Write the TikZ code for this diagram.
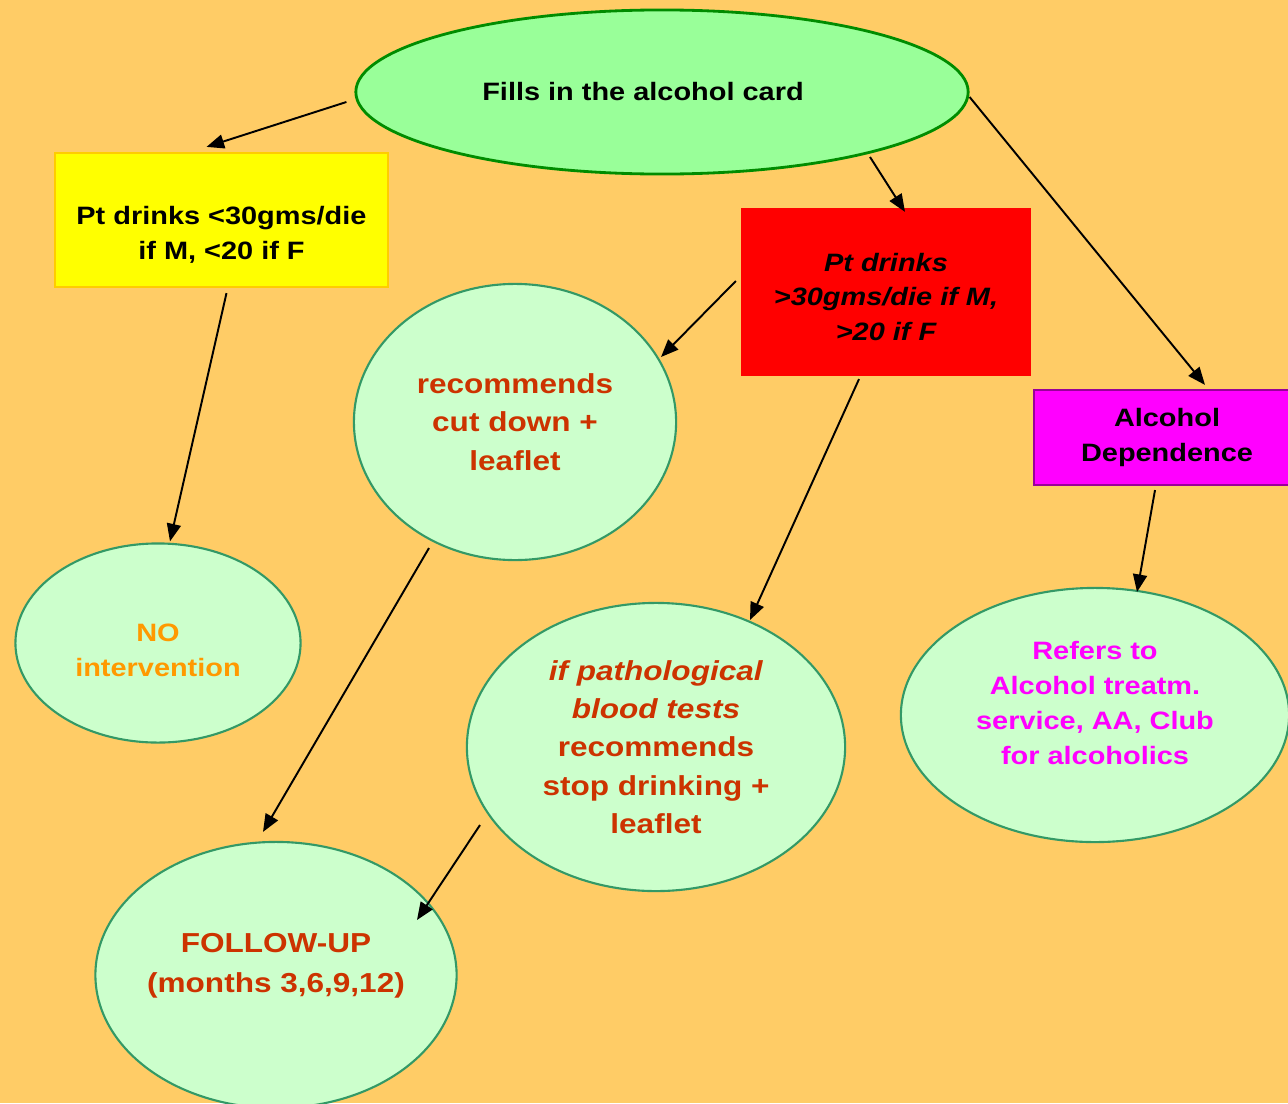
\documentclass[tikz,border=0pt]{standalone}
\usepackage{fontspec}
\setmainfont{Liberation Sans}[FakeStretch=1.15]
\usetikzlibrary{shapes.geometric, arrows.meta, calc}

\definecolor{bgorange}{HTML}{FFCC66}
\definecolor{cardfill}{HTML}{99FF99}
\definecolor{cardline}{HTML}{008C00}
\definecolor{bubblefill}{HTML}{CCFFCC}
\definecolor{bubbleline}{HTML}{339966}
\definecolor{advice}{HTML}{CC3300}
\definecolor{noadvice}{HTML}{FF9900}
\definecolor{pink}{HTML}{FF00FF}
\definecolor{purpleline}{HTML}{990099}
\definecolor{lowfill}{HTML}{FFFF00}
\definecolor{lowline}{HTML}{FFCC00}
\definecolor{highfill}{HTML}{FF0000}

\newcommand{\smalltxt}{\bfseries\fontsize{7.15}{9.9}\selectfont}
\newcommand{\bigtxt}{\bfseries\fontsize{7.8}{10.9}\selectfont}
\newcommand{\followtxt}{\bfseries\fontsize{7.8}{11.4}\selectfont}

\begin{document}
\begin{tikzpicture}[x=0.01cm, y=-0.01cm,
  cardnode/.style={ellipse, draw=cardline, line width=0.8pt, fill=cardfill, inner sep=0pt},
  bubble/.style={ellipse, draw=bubbleline, line width=0.6pt, fill=bubblefill, inner sep=0pt, align=center},
  boxnode/.style={rectangle, inner sep=0pt, align=center, font=\smalltxt, line width=0.6pt},
  txt/.style={align=center, inner sep=0pt},
  arr/.style={-{Triangle[length=5pt,width=4pt]}, line width=0.55pt, black}]
\useasboundingbox (0,0) rectangle (1288,1103);
\clip (0,0) rectangle (1288,1103);
\fill[bgorange] (0,0) rectangle (1288,1103);

% top
\node[cardnode, minimum width=6.12cm, minimum height=1.64cm,
  label={[txt, font=\smalltxt, xshift=-0.19cm]center:Fills in the alcohol card}] (card) at (662,92) {};

% the three boxes
\node[boxnode, fill=lowfill, draw=lowline, minimum width=3.33cm, minimum height=1.34cm,
  label={[txt, font=\smalltxt, yshift=-0.15cm]center:Pt drinks <30gms/die\\if M, <20 if F}] (low) at (221.5,220) {};
\node[boxnode, fill=highfill, minimum width=2.9cm, minimum height=1.68cm,
  label={[txt, font=\smalltxt\itshape, yshift=-0.05cm]center:Pt drinks\\>30gms/die if M,\\>20 if F}] (high) at (886,292) {};
\node[boxnode, fill=pink, draw=purpleline, minimum width=2.66cm, minimum height=0.95cm] (dep) at (1167,437.5) {Alcohol\\Dependence};

% the bubbles
\node[bubble, minimum width=3.22cm, minimum height=2.76cm, text=advice, font=\bigtxt] (cut) at (515,422) {recommends\\cut down +\\leaflet};
\node[bubble, minimum width=2.85cm, minimum height=1.99cm,
  label={[txt, text=noadvice, font=\smalltxt, yshift=-0.07cm]center:NO\\intervention}] (noint) at (158,643) {};
\node[bubble, minimum width=3.78cm, minimum height=2.88cm, text=advice, font=\bigtxt] (stop) at (656,747) {\textit{if pathological}\\\textit{blood tests}\\recommends\\stop drinking +\\leaflet};
\node[bubble, minimum width=3.88cm, minimum height=2.54cm,
  label={[txt, text=pink, font=\smalltxt, yshift=0.12cm]center:Refers to\\Alcohol treatm.\\service, AA, Club\\for alcoholics}] (refer) at (1095,715) {};
\node[bubble, minimum width=3.61cm, minimum height=2.66cm,
  label={[txt, text=advice, font=\followtxt, yshift=0.09cm]center:FOLLOW-UP\\(months 3,6,9,12)}] (follow) at (276,975) {};

% arrows
\draw[arr] ($(card.west)+(-8,10)$) -- ($(low.north)+(-15,-5)$);
\draw[arr] ($(card.center)+(208,65)$) -- ($(high.north)+(19,5)$);
\draw[arr] ($(card.east)+(0,5)$) -- ($(dep.north)+(38,-4)$);
\draw[arr] ($(low.south)+(5,5)$) -- ($(noint.north)+(12,-1)$);
\draw[arr] ($(high.west)+(-4,-11)$) -- ($(cut.center)+(146,-65)$);
\draw[arr] ($(high.south)+(-27,2)$) -- ($(stop.center)+(94,-127)$);
\draw[arr] ($(dep.south)+(-12,4)$) -- ($(refer.center)+(42,-123)$);
\draw[arr] ($(cut.center)+(-86,126)$) -- ($(follow.north)+(-13,-9)$);
\draw[arr] ($(stop.center)+(-176,78)$) -- ($(follow.center)+(141,-55)$);
\end{tikzpicture}
\end{document}
